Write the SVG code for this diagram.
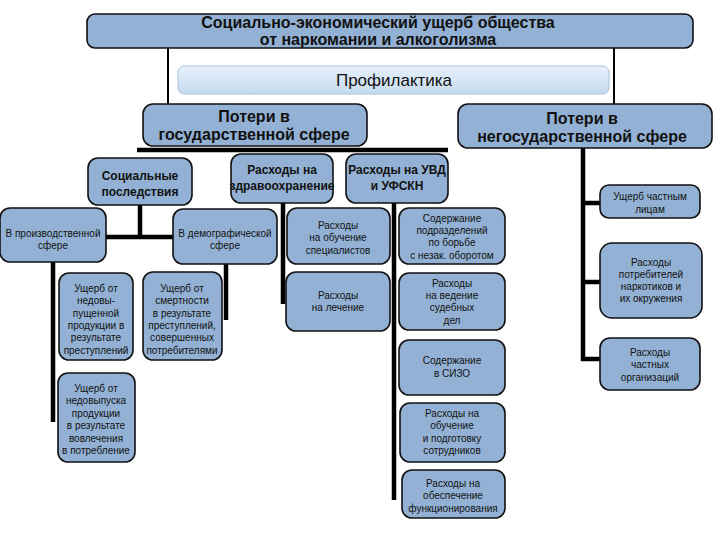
<svg xmlns="http://www.w3.org/2000/svg" width="720" height="540" viewBox="0 0 720 540">
<defs>
<linearGradient id="pg" x1="0" y1="0" x2="0" y2="1">
<stop offset="0" stop-color="#e6f0fa"/>
<stop offset="1" stop-color="#c6dbf0"/>
</linearGradient>
<style>
.b{fill:#93b1d4;stroke:#111;stroke-width:1.6}
.t{font-family:"Liberation Sans",Arial,sans-serif;fill:#111;text-anchor:middle}
.h{font-size:16px;font-weight:bold}
.m{font-size:16px;font-weight:bold}
.s{font-size:12px;font-weight:bold}
.x{font-size:10px}
.thin{stroke:#000;stroke-width:2;fill:none}
.thick{stroke:#000;stroke-width:4.5;fill:none}
</style>
</defs>
<rect width="720" height="540" fill="#fff"/>
<g id="connectors">
<line class="thin" x1="168" y1="48" x2="168" y2="104"/>
<line class="thin" x1="614" y1="48" x2="614" y2="104"/>
<line class="thick" x1="137" y1="150" x2="448" y2="150"/>
<line class="thick" x1="140" y1="205" x2="140" y2="238"/>
<line class="thick" x1="105" y1="237" x2="174" y2="237"/>
<line class="thick" x1="53" y1="262" x2="53" y2="422"/>
<line class="thick" x1="226" y1="264" x2="226" y2="320"/>
<line class="thick" x1="283" y1="203" x2="283" y2="304"/>
<line class="thick" x1="394" y1="203" x2="394" y2="500"/>
<line class="thick" x1="583" y1="148" x2="583" y2="361"/>
<line class="thick" x1="581" y1="203" x2="600" y2="203"/>
<line class="thick" x1="581" y1="282" x2="600" y2="282"/>
<line class="thick" x1="581" y1="359" x2="600" y2="359"/>
</g>
<g id="n-top">
<rect class="b" x="87" y="14" width="606" height="34" rx="8"/>
<text class="t h" x="378" y="28">Социально-экономический ущерб общества</text>
<text class="t h" x="378" y="45">от наркомании и алкоголизма</text>
</g>
<g id="n-prof">
<rect x="178" y="66" width="431" height="28" rx="6" fill="url(#pg)" stroke="#a7c2de" stroke-width="1"/>
<text class="t" x="394" y="86" font-size="17">Профилактика</text>
</g>
<g id="n-gov">
<rect class="b" x="143" y="104" width="224" height="42" rx="10"/>
<text class="t m" x="254" y="122">Потери в</text>
<text class="t m" x="254" y="140">государственной сфере</text>
</g>
<g id="n-nongov">
<rect class="b" x="458" y="104" width="254" height="44" rx="10"/>
<text class="t m" x="582" y="124">Потери в</text>
<text class="t m" x="582" y="142">негосударственной сфере</text>
</g>
<g id="n-social">
<rect class="b" x="88" y="158" width="104" height="47" rx="10"/>
<text class="t s" x="140" y="180">Социальные</text>
<text class="t s" x="140" y="196">последствия</text>
</g>
<g id="n-health">
<rect class="b" x="231" y="154" width="102" height="49" rx="10"/>
<text class="t s" x="282" y="174">Расходы на</text>
<text class="t s" x="282" y="190">здравоохранение</text>
</g>
<g id="n-uvd">
<rect class="b" x="346" y="154" width="102" height="49" rx="10"/>
<text class="t s" x="397" y="174">Расходы на УВД</text>
<text class="t s" x="397" y="190">и УФСКН</text>
</g>
<g id="n-prod">
<rect class="b" x="0" y="208" width="106" height="54" rx="10"/>
<text class="t x" x="53" y="237">В производственной</text>
<text class="t x" x="53" y="249">сфере</text>
</g>
<g id="n-demo">
<rect class="b" x="173" y="209" width="104" height="55" rx="10"/>
<text class="t x" x="225" y="237">В демографической</text>
<text class="t x" x="225" y="249">сфере</text>
</g>
<g id="n-prod1">
<rect class="b" x="59" y="273" width="74" height="87" rx="10"/>
<text class="t x" x="96" y="292">Ущерб от</text>
<text class="t x" x="96" y="304">недовы-</text>
<text class="t x" x="96" y="317">пущенной</text>
<text class="t x" x="96" y="329">продукции в</text>
<text class="t x" x="96" y="341">результате</text>
<text class="t x" x="96" y="354">преступлений</text>
</g>
<g id="n-demo1">
<rect class="b" x="143" y="272" width="79" height="88" rx="10"/>
<text class="t x" x="182" y="292">Ущерб от</text>
<text class="t x" x="182" y="304">смертности</text>
<text class="t x" x="182" y="317">в результате</text>
<text class="t x" x="182" y="329">преступлений,</text>
<text class="t x" x="182" y="341">совершенных</text>
<text class="t x" x="182" y="354">потребителями</text>
</g>
<g id="n-prod2">
<rect class="b" x="58" y="373" width="77" height="89" rx="10"/>
<text class="t x" x="96" y="392">Ущерб от</text>
<text class="t x" x="96" y="404">недовыпуска</text>
<text class="t x" x="96" y="417">продукции</text>
<text class="t x" x="96" y="429">в результате</text>
<text class="t x" x="96" y="442">вовлечения</text>
<text class="t x" x="96" y="454">в потребление</text>
</g>
<g id="n-h1">
<rect class="b" x="287" y="208" width="103" height="56" rx="10"/>
<text class="t x" x="338" y="229">Расходы</text>
<text class="t x" x="338" y="241">на обучение</text>
<text class="t x" x="338" y="254">специалистов</text>
</g>
<g id="n-h2">
<rect class="b" x="286" y="272" width="104" height="59" rx="10"/>
<text class="t x" x="338" y="299">Расходы</text>
<text class="t x" x="338" y="311">на лечение</text>
</g>
<g id="n-u1">
<rect class="b" x="399" y="208" width="106" height="56" rx="10"/>
<text class="t x" x="452" y="222">Содержание</text>
<text class="t x" x="452" y="234">подразделений</text>
<text class="t x" x="452" y="246">по борьбе</text>
<text class="t x" x="452" y="259">с незак. оборотом</text>
</g>
<g id="n-u2">
<rect class="b" x="399" y="273" width="106" height="57" rx="10"/>
<text class="t x" x="452" y="287">Расходы</text>
<text class="t x" x="452" y="299">на ведение</text>
<text class="t x" x="452" y="311">судебных</text>
<text class="t x" x="452" y="324">дел</text>
</g>
<g id="n-u3">
<rect class="b" x="399" y="340" width="106" height="55" rx="10"/>
<text class="t x" x="452" y="364">Содержание</text>
<text class="t x" x="452" y="377">в СИЗО</text>
</g>
<g id="n-u4">
<rect class="b" x="400" y="403" width="105" height="59" rx="10"/>
<text class="t x" x="452" y="417">Расходы на</text>
<text class="t x" x="452" y="429">обучение</text>
<text class="t x" x="452" y="442">и подготовку</text>
<text class="t x" x="452" y="454">сотрудников</text>
</g>
<g id="n-u5">
<rect class="b" x="402" y="470" width="103" height="48" rx="10"/>
<text class="t x" x="453" y="487">Расходы на</text>
<text class="t x" x="453" y="499">обеспечение</text>
<text class="t x" x="453" y="512">функционирования</text>
</g>
<g id="n-r1">
<rect class="b" x="600" y="185" width="100" height="33" rx="9"/>
<text class="t x" x="650" y="200">Ущерб частным</text>
<text class="t x" x="650" y="213">лицам</text>
</g>
<g id="n-r2">
<rect class="b" x="600" y="243" width="102" height="75" rx="12"/>
<text class="t x" x="651" y="266">Расходы</text>
<text class="t x" x="651" y="278">потребителей</text>
<text class="t x" x="651" y="290">наркотиков и</text>
<text class="t x" x="651" y="302">их окружения</text>
</g>
<g id="n-r3">
<rect class="b" x="600" y="338" width="100" height="52" rx="10"/>
<text class="t x" x="650" y="356">Расходы</text>
<text class="t x" x="650" y="368">частных</text>
<text class="t x" x="650" y="381">организаций</text>
</g>
</svg>
